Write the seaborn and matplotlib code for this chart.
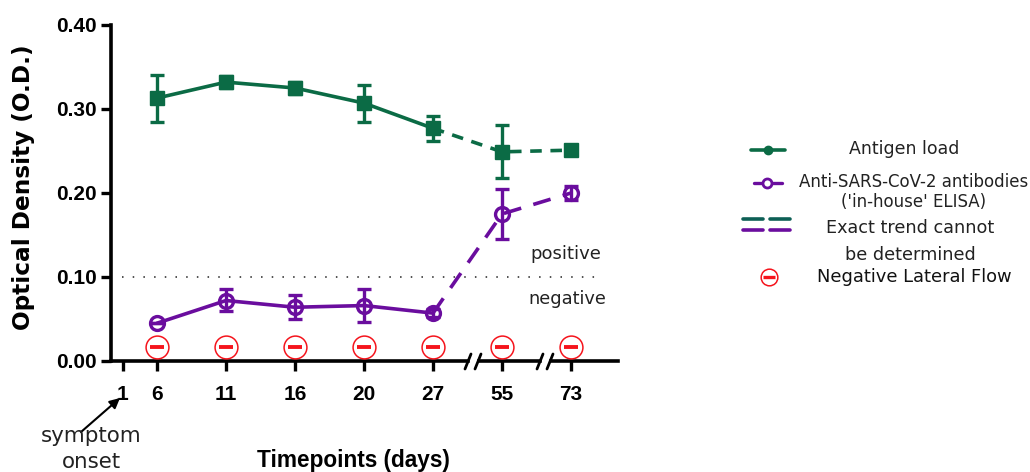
import numpy as np
import pandas as pd
import matplotlib
matplotlib.use('Agg')
import matplotlib.pyplot as plt
from matplotlib.lines import Line2D
import seaborn as sns

timepoints = ['6', '11', '16', '20', '27', '55', '73']
antigen = [0.313, 0.332, 0.325, 0.307, 0.277, 0.249, 0.251]
antigen_low = [0.285, 0.325, 0.318, 0.285, 0.262, 0.218, 0.246]
antigen_high = [0.340, 0.339, 0.332, 0.329, 0.292, 0.281, 0.256]
antibody = [0.045, 0.072, 0.064, 0.066, 0.057, 0.175, 0.200]
antibody_low = [0.045, 0.059, 0.050, 0.046, 0.052, 0.145, 0.192]
antibody_high = [0.045, 0.086, 0.079, 0.086, 0.062, 0.205, 0.208]
lateral_flow = [0.017] * 7
cutoff = 0.10
yticks = [0.00, 0.10, 0.20, 0.30, 0.40]

GREEN = '#0b6b45'
PURPLE = '#6a0d9e'
RED = '#f5141c'
W, H = 1030, 472

sns.set_style('ticks', {'text.color': 'black', 'axes.edgecolor': 'black', 'axes.labelcolor': 'black',
                        'xtick.color': 'black', 'ytick.color': 'black'})
plt.rcParams['font.family'] = ['DejaVu Sans']

df = pd.DataFrame({'pos': np.arange(len(timepoints)), 'antigen': antigen, 'antibody': antibody})
solid = df.iloc[:5]
dashed = df.iloc[4:]

fig = plt.figure(figsize=(W / 100, H / 100), dpi=100)
ax = fig.add_axes([111 / W, 1 - 361 / H, (618 - 111) / W, (361 - 25) / H])


def fx(px):
    return px / W


def fy(py):
    return 1 - py / H


ax.set_xlim((111 - 157) / 69, (618 - 157) / 69)
ax.set_ylim(0, 0.40)

# dotted cut-off
ax.plot([(122 - 157) / 69, (596 - 157) / 69], [cutoff, cutoff], color='#222222', lw=1.1,
        dashes=(1, 6), zorder=1)

# antigen
sns.lineplot(data=solid, x='pos', y='antigen', ax=ax, color=GREEN, lw=2.6, zorder=3)
sns.lineplot(data=dashed, x='pos', y='antigen', ax=ax, color=GREEN, lw=2.6, zorder=3,
             linestyle=(0, (3.2, 2.4)))
ax.errorbar(df['pos'], antigen,
            yerr=[np.array(antigen) - antigen_low, np.array(antigen_high) - antigen],
            fmt='s', ms=10, color=GREEN, elinewidth=2.4, capsize=5, capthick=2.4, zorder=4)

# antibodies
sns.lineplot(data=solid, x='pos', y='antibody', ax=ax, color=PURPLE, lw=2.6, zorder=3)
sns.lineplot(data=dashed, x='pos', y='antibody', ax=ax, color=PURPLE, lw=2.6, zorder=3,
             linestyle=(0, (5, 3.5)))
ax.errorbar(df['pos'], antibody,
            yerr=[np.array(antibody) - antibody_low, np.array(antibody_high) - antibody],
            fmt='o', ms=10, mfc='none', mew=2.4, color=PURPLE, elinewidth=2.4, capsize=5,
            capthick=2.4, zorder=4)

# lateral flow symbols
ax.scatter(df['pos'], lateral_flow, s=270, facecolor='white', edgecolor=RED, lw=1.1, zorder=5)
ax.scatter(df['pos'], lateral_flow, s=100, marker='_', color=RED, lw=2.8, zorder=6)

ax.set_xticks([-0.5] + list(df['pos']))
ax.set_xticklabels(['1'] + timepoints)
ax.set_yticks(yticks)
ax.set_yticklabels([f'{v:.2f}' for v in yticks])
ax.tick_params(axis='both', width=2.4, length=7, color='black')
ax.tick_params(axis='x', pad=10)
for lab in ax.get_xticklabels() + ax.get_yticklabels():
    lab.set_fontfamily(['Liberation Sans'])
    lab.set_fontweight('bold')
    lab.set_fontsize(15)
sns.despine(ax=ax)
for s in ['left', 'bottom']:
    ax.spines[s].set_linewidth(2.6)
ax.set_xlabel('')
ax.set_ylabel('Optical Density (O.D.)', fontsize=16.7, fontweight='bold')
ax.yaxis.set_label_coords((35 - 111) / (618 - 111), (361 - 187) / (361 - 25))

# axis breaks
for px in [473, 545]:
    fig.patches.append(plt.Rectangle((fx(px - 3), fy(367)), 6 / W, 12 / H, transform=fig.transFigure,
                                     color='white', zorder=10))
    for off in [-5, 5]:
        fig.add_artist(Line2D([fx(px + off - 3), fx(px + off + 3)], [fy(369), fy(354)], color='black',
                              lw=2, zorder=11))

ax.text(fx(566), fy(254), 'positive', transform=fig.transFigure, ha='center', va='center', fontsize=13,
        color='#222222')
ax.text(fx(567), fy(299), 'negative', transform=fig.transFigure, ha='center', va='center', fontsize=12.8,
        color='#222222')

ax.annotate('', xy=(fx(120), fy(398)), xytext=(fx(81), fy(432)), xycoords='figure fraction',
            textcoords='figure fraction',
            arrowprops=dict(arrowstyle='-|>', color='black', lw=1.5, shrinkA=0, shrinkB=0, mutation_scale=15))
fig.text(fx(91), fy(436), 'symptom', ha='center', va='center', fontsize=15.4, color='#222222')
fig.text(fx(91), fy(462), 'onset', ha='center', va='center', fontsize=15.4, color='#222222')
fig.text(fx(353), fy(461), 'Timepoints (days)', ha='center', va='center', fontsize=16.3, fontweight='bold',
         family=['Liberation Sans'])

# legend by hand, the rows are not evenly spaced
fig.add_artist(Line2D([fx(751), fx(785)], [fy(150), fy(150)], color=GREEN, lw=2.6))
fig.add_artist(Line2D([fx(768)], [fy(150)], color=GREEN, marker='o', ms=6))
fig.add_artist(Line2D([fx(754), fx(782)], [fy(183), fy(183)], color=PURPLE, lw=2.4))
fig.add_artist(Line2D([fx(767)], [fy(183)], color=PURPLE, marker='o', ms=6.5, mfc='white', mew=2))
for x0, x1 in [(743, 763), (770, 790)]:
    fig.add_artist(Line2D([fx(x0), fx(x1)], [fy(219), fy(219)], color='#0d5f55', lw=2.6))
    fig.add_artist(Line2D([fx(x0), fx(x1)], [fy(230), fy(230)], color=PURPLE, lw=2.6))
fig.add_artist(Line2D([fx(769)], [fy(277)], color=RED, marker='o', ms=12, mfc='white', mew=1.1))
fig.add_artist(Line2D([fx(769)], [fy(277)], color=RED, marker='_', ms=8, mew=2.4))

fig.text(fx(904), fy(149), 'Antigen load', ha='center', va='center', fontsize=12.5, color='#222222')
fig.text(fx(914), fy(182), 'Anti-SARS-CoV-2 antibodies', ha='center', va='center', fontsize=12,
         color='#222222')
fig.text(fx(914), fy(202), "('in-house' ELISA)", ha='center', va='center', fontsize=12, color='#222222')
fig.text(fx(910), fy(228), 'Exact trend cannot', ha='center', va='center', fontsize=12.7, color='#222222')
fig.text(fx(910), fy(255), 'be determined', ha='center', va='center', fontsize=12.7, color='#222222')
fig.text(fx(914), fy(277), 'Negative Lateral Flow', ha='center', va='center', fontsize=12.9, color='#111111')

fig.savefig('out.png', dpi=100)
